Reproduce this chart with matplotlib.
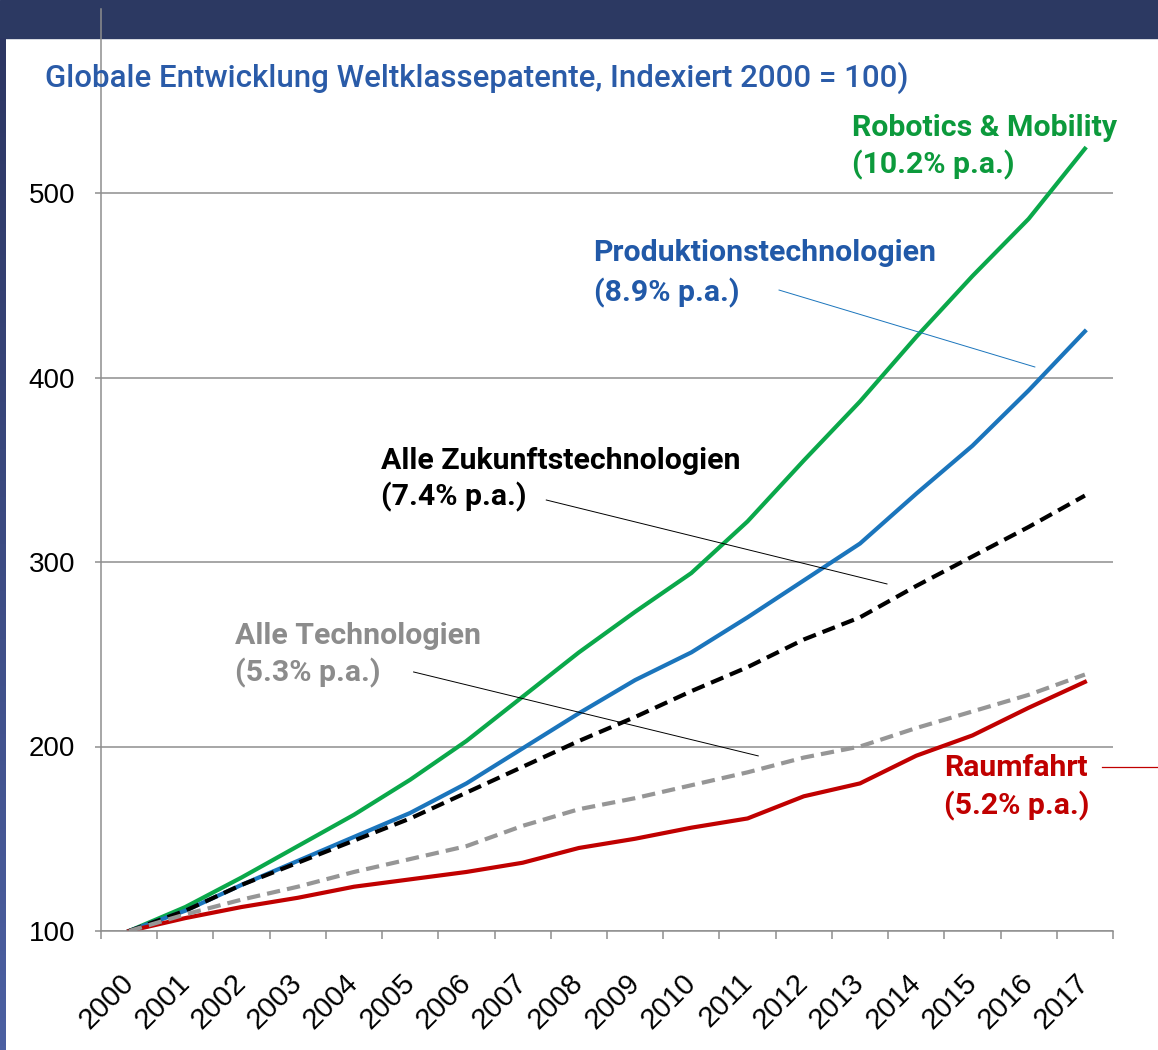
import numpy as np
import matplotlib
matplotlib.use("Agg")
import matplotlib.pyplot as plt
from matplotlib.patches import Rectangle
from matplotlib.transforms import ScaledTranslation

# data (index, 2000 = 100)
years = [str(y) for y in range(2000, 2018)]
robotics = [100, 113, 129, 146, 163, 182, 203, 227, 251, 273, 294, 322, 355, 387, 422, 455, 486, 524]
produktion = [100, 111, 125, 138, 151, 164, 180, 199, 218, 236, 251, 270, 290, 310, 337, 363, 393, 425]
zukunft = [100, 111, 125, 137, 149, 161, 175, 189, 203, 216, 230, 243, 258, 270, 287, 303, 319, 336]
alle_tech = [100, 109, 117, 124, 132, 139, 146, 157, 166, 172, 179, 186, 194, 200, 210, 219, 228, 239]
raumfahrt = [100, 107, 113, 118, 124, 128, 132, 137, 145, 150, 156, 161, 173, 180, 195, 206, 221, 235]
y_ticks = [100, 200, 300, 400, 500]

GREEN = '#0aa84a'
BLUE = '#1b75bc'
RED = '#c00000'
GRAY = '#969696'
AXIS = '#8e8e8e'

W, H = 1158, 1050
fig = plt.figure(figsize=(W / 100, H / 100), dpi=100, facecolor='white')

# header band and left gradient strip
fig.add_artist(Rectangle((0, 1 - 38 / H), 1, 38 / H, transform=fig.transFigure,
                         color='#2c3962', zorder=1))
strip = fig.add_axes([0, 0, 6 / W, 1 - 38 / H], zorder=1)
grad = np.linspace(0, 1, 256).reshape(-1, 1)
c0 = np.array([0x2c, 0x36, 0x62]) / 255
c1 = np.array([0x4c, 0x60, 0xa2]) / 255
strip.imshow(c0 + (c1 - c0) * grad[:, :, None], aspect='auto')
strip.axis('off')

ax = fig.add_axes([101 / W, 1 - 931 / H, (1113 - 101) / W, (931 - 8.5) / H], zorder=2)
ax.set_facecolor('none')

x = np.arange(len(years))
ax.plot(x, robotics, color=GREEN, lw=3, solid_joinstyle='round')
ax.plot(x, produktion, color=BLUE, lw=3, solid_joinstyle='round')
ax.plot(x, raumfahrt, color=RED, lw=3, solid_joinstyle='round')
ax.plot(x, zukunft, color='black', lw=3, dashes=(3.2, 1.7))
ax.plot(x, alle_tech, color=GRAY, lw=3, dashes=(3.2, 1.7))

ax.set_xlim(-0.5, len(years) - 0.5)
ax.set_ylim(100, 600)

ax.set_yticks(y_ticks)
ax.set_yticklabels([str(v) for v in y_ticks], fontsize=20, family='Liberation Sans')
ax.yaxis.grid(True, color=AXIS, lw=1.1)
ax.set_axisbelow(True)

ax.set_xticks(np.arange(len(years) + 1) - 0.5)
ax.set_xticklabels([])
ax.set_xticks(x, minor=True)
ax.set_xticklabels(years, minor=True, rotation=45, ha='right', va='center',
                   rotation_mode='anchor', fontsize=21, family='Liberation Sans')
shift = ScaledTranslation(6 / 72, 0, fig.dpi_scale_trans)
for t in ax.get_xticklabels(minor=True):
    t.set_transform(t.get_transform() + shift)
ax.tick_params(axis='x', which='major', length=6, width=1.1, color=AXIS)
ax.tick_params(axis='x', which='minor', length=0, pad=34)
ax.tick_params(axis='y', length=4.5, width=1.1, color=AXIS, pad=14)

for s in ['top', 'right']:
    ax.spines[s].set_visible(False)
for s in ['left', 'bottom']:
    ax.spines[s].set_color(AXIS)
    ax.spines[s].set_linewidth(1.1)

fig.text(45 / W, 1 - 78 / H, 'Globale Entwicklung Weltklassepatente, Indexiert 2000 = 100)',
         color='#2a5ba8', fontsize=22.5, family='Roboto', fontweight='medium', va='center')

# series labels with leader lines
lab = dict(fontsize=21.8, family='Roboto', fontweight='bold', va='center', ha='left')
ax.text(12.86, 535, 'Robotics & Mobility', color='#0c9a3c', **lab)
ax.text(12.86, 515, '(10.2% p.a.)', color='#0c9a3c', **lab)
ax.text(8.26, 467.5, 'Produktionstechnologien', color='#2159a8', **lab)
ax.text(8.26, 446, '(8.9% p.a.)', color='#2159a8', **lab)
ax.text(4.48, 355, 'Alle Zukunftstechnologien', color='black', **lab)
ax.text(4.48, 335, '(7.4% p.a.)', color='black', **lab)
ax.text(1.88, 260, 'Alle Technologien', color='#8c8c8c', **lab)
ax.text(1.88, 240, '(5.3% p.a.)', color='#8c8c8c', **lab)
ax.text(14.49, 188.5, 'Raumfahrt', color=RED, **lab)
ax.text(14.49, 168, '(5.2% p.a.)', color=RED, **lab)

ax.plot([11.56, 16.11], [447.4, 405.7], color=BLUE, lw=0.7)
ax.plot([7.42, 13.48], [333.6, 288.1], color='black', lw=0.7)
ax.plot([5.06, 11.19], [240.4, 194.9], color='black', lw=0.7)
ax.plot([17.30, 18.3], [188.9, 188.9], color=RED, lw=0.9, clip_on=False)

fig.savefig('out.png', dpi=100, facecolor='white')
